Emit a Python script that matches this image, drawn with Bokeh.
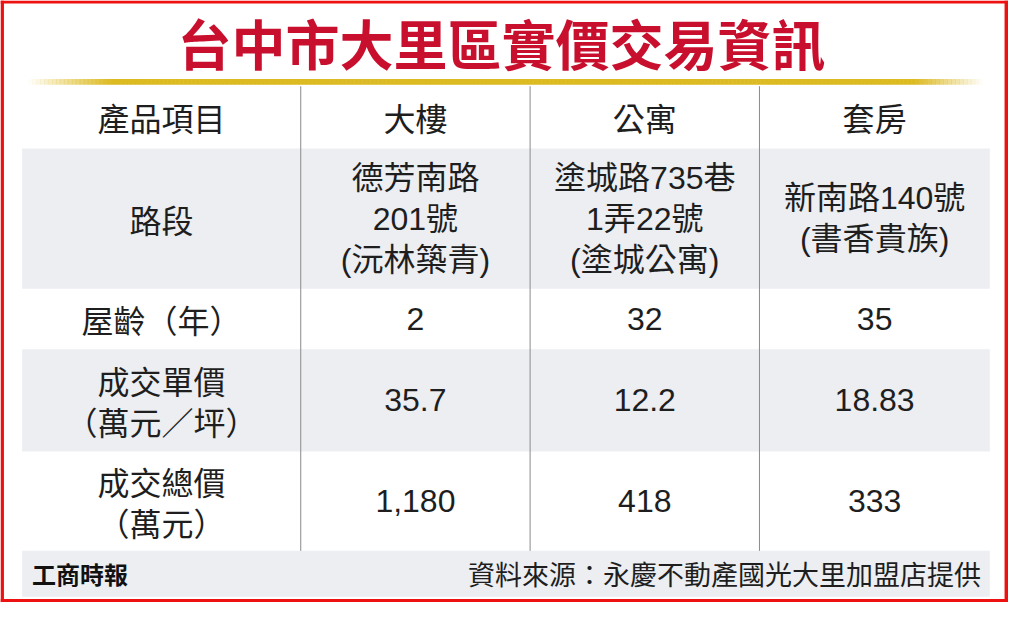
from bokeh.plotting import figure
from bokeh.models import Range1d
from bokeh.core.properties import value
from bokeh.embed import file_html
from bokeh.resources import INLINE
import numpy as np

# ---------------- data ----------------
title_text = "台中市大里區實價交易資訊"
header_label = "產品項目"
categories = ["大樓", "公寓", "套房"]
row_labels = ["路段", "屋齡（年）", "成交單價\n（萬元／坪）", "成交總價\n（萬元）"]
road_section = ["德芳南路\n201號\n(沅林築青)", "塗城路735巷\n1弄22號\n(塗城公寓)", "新南路140號\n(書香貴族)"]
building_age = [2, 32, 35]
unit_price = [35.7, 12.2, 18.83]
total_price = [1180, 418, 333]
logo_text = "工商時報"
source_text = "資料來源：永慶不動產國光大里加盟店提供"

# ---------------- layout (reference pixel space) ----------------
W, H = 1024, 618
col_edges = [22, 305, 538, 771, 1005]
row_edges = [88, 152, 296, 358, 463, 565]
footer_edges = (565, 612)
line_gap = 42
CJK = "Noto Sans CJK TC"
MIX = "Liberation Sans, Noto Sans CJK TC"
TXT = "#1e1e1e"
GRAY = "#eceef2"
FS = "32px"

p = figure(width=1008, height=602, x_range=Range1d(0, W), y_range=Range1d(H, 0),
           toolbar_location=None, output_backend="svg", min_border=0,
           background_fill_color="white", border_fill_color="white")
p.axis.visible = False
p.grid.visible = False
p.outline_line_color = None

# gray bands (rows 1 and 3 + footer)
band_top = [row_edges[1], row_edges[3], footer_edges[0]]
band_bot = [row_edges[2], row_edges[4], footer_edges[1]]
p.quad(left=col_edges[0], right=col_edges[-1], top=band_top, bottom=band_bot,
       fill_color=GRAY, line_color=None)

# vertical separators
for xe in col_edges[1:-1]:
    p.segment(x0=xe, y0=row_edges[0], x1=xe, y1=row_edges[-1], line_color="#8a8a8a", line_width=1)

# gold rule with faded ends
gx0, gx1 = 28, 998
n = 240
xs = np.linspace(gx0, gx1, n + 1)
mid = (xs[:-1] + xs[1:]) / 2
alpha = np.clip(np.minimum((mid - gx0) / 85.0, (gx1 - mid) / 70.0), 0, 1)
p.quad(left=xs[:-1], right=xs[1:] + 0.5, top=80.5, bottom=86.5,
       fill_color="#dcba22", fill_alpha=alpha, line_color=None)

# title
p.text(x=[W / 2 - 3], y=[43], text=[title_text], text_font=value(CJK), text_font_style="bold",
       text_font_size="54px", text_color="#c8102e", text_align="center", text_baseline="middle")

centers_x = [(col_edges[i] + col_edges[i + 1]) / 2 for i in range(4)]
row_cy = [(row_edges[i] + row_edges[i + 1]) / 2 for i in range(len(row_edges) - 1)]


def cell(xc, yc, s, font=MIX):
    lines = s.split("\n")
    k = len(lines)
    ys = [yc + (i - (k - 1) / 2) * line_gap for i in range(k)]
    p.text(x=[xc] * k, y=ys, text=lines, text_font=value(font), text_font_size=FS,
           text_color=TXT, text_align="center", text_baseline="middle")


# header row
cell(centers_x[0], row_cy[0], header_label, CJK)
for j, c in enumerate(categories):
    cell(centers_x[j + 1], row_cy[0], c, CJK)

# row labels
for i, lab in enumerate(row_labels):
    cell(centers_x[0], row_cy[i + 1], lab, CJK)

rows = [road_section,
        [str(v) for v in building_age],
        [f"{v:g}" for v in unit_price],
        [f"{v:,}" for v in total_price]]
for i, vals in enumerate(rows):
    for j, v in enumerate(vals):
        cell(centers_x[j + 1], row_cy[i + 1], v)

# footer
fy = (footer_edges[0] + footer_edges[1]) / 2
p.text(x=[32], y=[fy], text=[logo_text], text_font=value(CJK), text_font_style="bold",
       text_font_size="24px", text_color="#111111", text_align="left", text_baseline="middle")
p.text(x=[996], y=[fy], text=[source_text], text_font=value(CJK), text_font_size="27px",
       text_color=TXT, text_align="right", text_baseline="middle")

# red frame
RED = "#ee1111"
p.quad(left=[0, 0, 1020, 0], right=[3.5, W, W, W], top=[0, 0, 0, 614.5], bottom=[H, 3, H, H],
       fill_color=RED, line_color=None)

open("out.html", "w").write(file_html(p, INLINE))
